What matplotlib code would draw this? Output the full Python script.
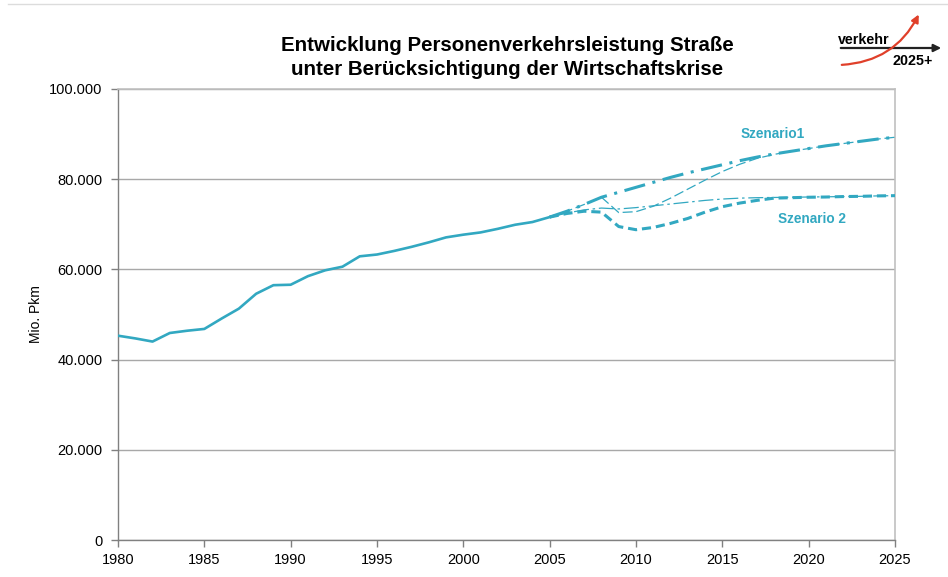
import matplotlib
matplotlib.use("Agg")
import matplotlib.pyplot as plt
from matplotlib.ticker import FuncFormatter
from matplotlib.patches import FancyArrowPatch
from matplotlib.lines import Line2D

plt.rcParams['font.family'] = ['Liberation Sans', 'DejaVu Sans']

# historical values (Mio. Pkm)
years_hist = list(range(1980, 2006))
values_hist = [45300, 44700, 44000, 45900, 46400, 46800, 49100, 51300, 54600, 56500,
               56600, 58500, 59800, 60600, 62900, 63300, 64100, 65000, 66000, 67100,
               67700, 68200, 69000, 69900, 70500, 71600]

years_scen = list(range(2005, 2026))
# Szenario 1 (without crisis) - thick dash-dot
szen1 = [71600, 72900, 74400, 76000, 77100, 78200, 79300, 80400, 81400, 82300,
         83200, 84100, 84900, 85600, 86200, 86800, 87400, 87900, 88400, 88900, 89300]
# Szenario 1 with crisis - thin dashed
szen1_krise = [71600, 72900, 74400, 76000, 72600, 72800, 74000, 75800, 77800, 79800,
               81700, 83300, 84600, 85500, 86200, 86800, 87400, 87900, 88400, 88900, 89300]
# Szenario 2 (without crisis) - thin dash-dot
szen2 = [71600, 72500, 73200, 73600, 73400, 73700, 74100, 74500, 74900, 75300,
         75600, 75800, 75900, 75950, 76000, 76050, 76100, 76150, 76200, 76300, 76350]
# Szenario 2 with crisis - thick dashed
szen2_krise = [71600, 72400, 72900, 72700, 69500, 68800, 69300, 70200, 71300, 72700,
               73900, 74700, 75300, 75800, 75900, 76000, 76050, 76150, 76200, 76300, 76350]

xticks = list(range(1980, 2026, 5))
yticks = [0, 20000, 40000, 60000, 80000, 100000]

title = "Entwicklung Personenverkehrsleistung Straße\nunter Berücksichtigung der Wirtschaftskrise"
color = '#32a8c1'

fig = plt.figure(figsize=(9.48, 5.77), dpi=100)
ax = fig.add_axes([118/948, 1-540/577, (895-118)/948, (540-89)/577])

ax.plot(years_hist, values_hist, color=color, lw=1.9, solid_joinstyle='round', zorder=5)
ax.plot(years_scen, szen2_krise, color=color, lw=2.2, ls=(0, (3, 1.6)), zorder=4)
ax.plot(years_scen, szen1, color=color, lw=2.2, ls=(0, (7, 2.5, 1, 2.5)), zorder=4)
ax.plot(years_scen, szen1_krise, color=color, lw=0.9, ls=(0, (8, 3)), zorder=3)
ax.plot(years_scen, szen2, color=color, lw=0.9, ls=(0, (12, 3, 2, 3)), zorder=3)

ax.text(2017.9, 90000, "Szenario1", color=color, fontsize=9.8, fontweight='bold',
        ha='center', va='center')
ax.text(2020.2, 71100, "Szenario 2", color=color, fontsize=9.8, fontweight='bold',
        ha='center', va='center')

ax.set_xlim(1980, 2025)
ax.set_ylim(0, 100000)
ax.set_xticks(xticks)
ax.set_yticks(yticks)
ax.yaxis.set_major_formatter(FuncFormatter(lambda v, p: "0" if v == 0 else f"{int(v):,}".replace(",", ".")))
ax.grid(axis='y', color='#a8a8a8', lw=1.0)
ax.set_axisbelow(True)
for s in ['top', 'right']:
    ax.spines[s].set_color('#c0c0c0')
    ax.spines[s].set_linewidth(1.2)
for s in ['left', 'bottom']:
    ax.spines[s].set_color('#808080')
    ax.spines[s].set_linewidth(1.0)
ax.tick_params(axis='both', direction='out', length=5, width=1, color='#808080',
               labelsize=10.5)
ax.tick_params(axis='y', pad=6)
ax.tick_params(axis='x', pad=4)
ax.set_ylabel("Mio. Pkm", fontsize=10)
ax.yaxis.set_label_coords(-0.097, 0.5)

fig.text(507/948, 1-57.5/577, title, ha='center', va='center', fontsize=14.8,
         fontweight='bold', linespacing=1.38)

# faint top border line
fig.add_artist(Line2D([8/948, 1.0], [1-4/577, 1-4/577], color='#dcdcdc', lw=1))

# logo "verkehr 2025+"
fig.text(838/948, 1-40/577, "verkehr", fontsize=10.3, fontweight='bold', ha='left', va='center')
fig.text(933/948, 1-61/577, "2025+", fontsize=10.3, fontweight='bold', ha='right', va='center')
fig.add_artist(FancyArrowPatch((838/948, 1-48/577), (944/948, 1-48/577),
                               transform=fig.transFigure, arrowstyle='-|>',
                               mutation_scale=11, color='#222222', lw=1.6))
fig.add_artist(FancyArrowPatch((839/948, 1-65/577), (920/948, 1-12/577),
                               transform=fig.transFigure, arrowstyle='-|>',
                               connectionstyle='arc3,rad=0.3',
                               mutation_scale=11, color='#e0402a', lw=1.6))

fig.savefig("out.png", dpi=100)
